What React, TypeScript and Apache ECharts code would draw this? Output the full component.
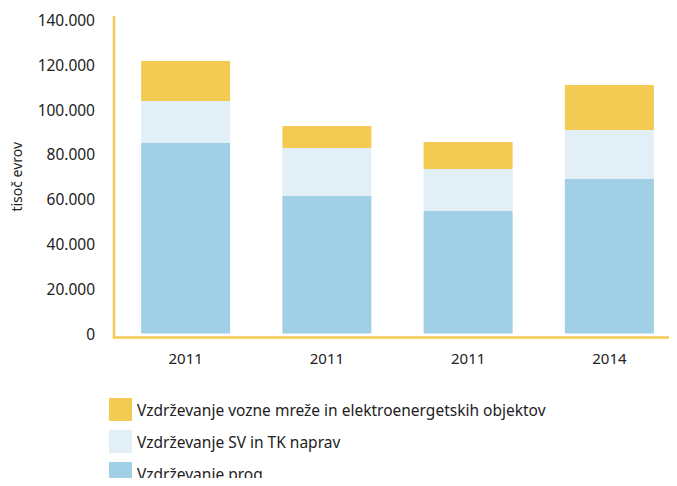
import React, { useEffect, useRef } from "react";
import * as echarts from "echarts";

const categories = ["2011", "2011", "2011", "2014"];
const prog = [85100, 61400, 54700, 69000];
const svTk = [18700, 21400, 18800, 21900];
const vozneMreze = [17900, 9900, 12000, 20100];
const seriesNames = [
  "Vzdrževanje vozne mreže in elektroenergetskih objektov",
  "Vzdrževanje SV in TK naprav",
  "Vzdrževanje prog",
];

const FONT = "Noto Sans";

export default function App() {
  const ref = useRef<HTMLDivElement>(null);
  useEffect(() => {
    const chart = echarts.init(ref.current!, null, { renderer: "svg" });
    const barW = "63%";
    chart.setOption({
      animation: false,
      textStyle: { fontFamily: FONT },
      grid: {
        left: 115,
        right: -3,
        top: 20,
        bottom: 152.5,
        containLabel: false,
        outerBoundsMode: "none",
      },
      legend: {
        orient: "vertical",
        left: 109,
        top: 398,
        padding: 0,
        height: 200,
        itemWidth: 23,
        itemHeight: 23,
        itemGap: 9,
        icon: "rect",
        data: seriesNames,
        textStyle: { fontFamily: FONT, fontSize: 15.5, color: "#222" },
      },
      xAxis: {
        type: "category",
        data: categories,
        offset: 4,
        axisLine: { show: false },
        axisTick: { show: false },
        axisLabel: { fontSize: 15, color: "#222", margin: 13, fontFamily: FONT },
      },
      yAxis: {
        type: "value",
        min: 0,
        max: 140000,
        interval: 20000,
        name: "tisoč evrov",
        nameLocation: "middle",
        nameGap: 92,
        nameTextStyle: { fontSize: 14, color: "#222", fontFamily: FONT },
        axisLine: { show: false },
        axisTick: { show: false },
        splitLine: { show: false },
        axisLabel: {
          fontSize: 15.5,
          color: "#222",
          margin: 20,
          fontFamily: FONT,
          formatter: (v: number) =>
            v === 0 ? "0" : (v / 1000).toFixed(0) + ".000",
        },
      },
      graphic: [
        {
          type: "polyline",
          shape: { points: [[114, 16], [114, 337.5], [677, 337.5]] },
          style: { stroke: "#F3CA52", lineWidth: 2.5, fill: "none" },
          silent: true,
        },
      ],
      series: [
        {
          name: seriesNames[2],
          type: "bar",
          stack: "t",
          data: prog,
          barWidth: barW,
          itemStyle: { color: "#A0CFE6" },
        },
        {
          name: seriesNames[1],
          type: "bar",
          stack: "t",
          data: svTk,
          barWidth: barW,
          itemStyle: { color: "#E3EFF7" },
        },
        {
          name: seriesNames[0],
          type: "bar",
          stack: "t",
          data: vozneMreze,
          barWidth: barW,
          itemStyle: { color: "#F3CA52" },
        },
      ],
    });
    return () => chart.dispose();
  }, []);
  return <div ref={ref} style={{ width: 677, height: 486, margin: -8 }} />;
}
